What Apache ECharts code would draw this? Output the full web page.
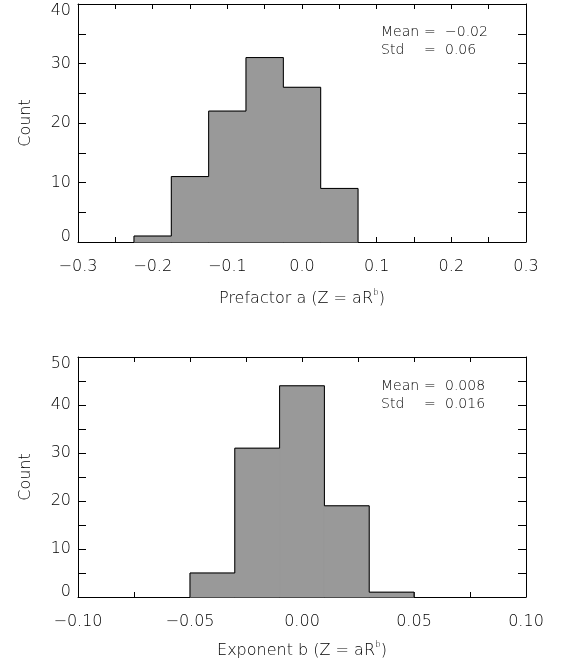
<!DOCTYPE html>
<html>
<head>
<meta charset="utf-8">
<script src="https://cdn.jsdelivr.net/npm/echarts@6/dist/echarts.min.js"></script>
<style>html,body{margin:0;padding:0;background:#fff;}#c{width:570px;height:662px;}</style>
</head>
<body>
<div id="c"></div>
<script>
// ---- data ----
const binEdgesA = [-0.225, -0.175, -0.125, -0.075, -0.025, 0.025, 0.075];
const countsA   = [1, 11, 22, 31, 26, 9];
const binEdgesB = [-0.05, -0.03, -0.01, 0.01, 0.03, 0.05];
const countsB   = [5, 31, 44, 19, 1];
const statsA = { label: ['Mean', 'Std'], value: ['\u22120.02', '0.06'] };
const statsB = { label: ['Mean', 'Std'], value: ['0.008', '0.016'] };
const xTitleA = 'Prefactor a (Z = aR{s|b})';
const xTitleB = 'Exponent b (Z = aR{s|b})';
const yTitle = 'Count';

const FONT = 'DejaVu Sans';
const FW = 200;
const TXT = '#000';

function barItems(edges, counts) {
  return counts.map((c, i) => [edges[i], edges[i + 1], c]);
}
function stepLine(edges, counts) {
  const pts = [[edges[0], 0]];
  counts.forEach((c, i) => { pts.push([edges[i], c]); pts.push([edges[i + 1], c]); });
  pts.push([edges[edges.length - 1], 0]);
  return pts;
}
function fmt(dec) {
  return v => (v < 0 ? '\u2212' : '') + Math.abs(v).toFixed(dec);
}

function xAxes(grid, min, max, interval, dec, name, gap) {
  const common = {
    gridIndex: grid, type: 'value', min: min, max: max, interval: interval,
    axisLine: { show: true, onZero: false, lineStyle: { color: '#000', width: 1 } },
    axisTick: { show: true, inside: true, length: 5, lineStyle: { color: '#000' } },
    minorTick: { show: true, splitNumber: 2, length: 5, lineStyle: { color: '#000' } },
    splitLine: { show: false }, minorSplitLine: { show: false }
  };
  return [
    Object.assign({}, common, {
      position: 'bottom',
      axisLabel: { show: true, formatter: fmt(dec), margin: 17, fontFamily: FONT, fontSize: 16, color: TXT, fontWeight: FW,
        showMinLabel: true, showMaxLabel: true },
      name: name, nameLocation: 'middle', nameGap: gap,
      nameTextStyle: { fontFamily: FONT, fontSize: 16, color: TXT, fontWeight: FW,
        rich: { s: { fontFamily: FONT, fontSize: 9, color: TXT, fontWeight: FW, verticalAlign: 'bottom', padding: [0, 0, 13, 0] } } }
    }),
    Object.assign({}, common, { position: 'top', axisLabel: { show: false } })
  ];
}
function yAxes(grid, max) {
  const common = {
    gridIndex: grid, type: 'value', min: 0, max: max, interval: 10,
    axisLine: { show: true, onZero: false, lineStyle: { color: '#000', width: 1 } },
    axisTick: { show: true, inside: true, length: 8, lineStyle: { color: '#000' } },
    minorTick: { show: true, splitNumber: 2, length: 8, lineStyle: { color: '#000' } },
    splitLine: { show: false }, minorSplitLine: { show: false }
  };
  const lab = { fontFamily: FONT, fontSize: 16, color: TXT, fontWeight: FW };
  return [
    Object.assign({}, common, {
      position: 'left',
      axisLabel: Object.assign({ show: true, margin: 7,
        formatter: v => v === 0 ? '{lo|' + v + '}' : (v === max ? '{hi|' + v + '}' : '{n|' + v + '}'),
        rich: {
          n: Object.assign({}, lab),
          lo: Object.assign({ padding: [0, 0, 10, 0] }, lab),
          hi: Object.assign({ padding: [14, 0, 0, 0] }, lab)
        } }, lab),
      name: yTitle, nameLocation: 'middle', nameGap: 44, nameRotate: 90,
      nameTextStyle: Object.assign({}, lab)
    }),
    Object.assign({}, common, { position: 'right', axisLabel: { show: false } })
  ];
}

function histSeries(xi, yi, edges, counts) {
  return [
    {
      type: 'custom', xAxisIndex: xi, yAxisIndex: yi, data: barItems(edges, counts),
      renderItem: (params, api) => {
        const p0 = api.coord([api.value(0), api.value(2)]);
        const p1 = api.coord([api.value(1), 0]);
        return { type: 'rect', shape: { x: p0[0], y: p0[1], width: p1[0] - p0[0], height: p1[1] - p0[1] },
                 style: { fill: '#999999', stroke: '#999999', lineWidth: 1 } };
      },
      silent: true, z: 2
    },
    {
      type: 'line', xAxisIndex: xi, yAxisIndex: yi, data: stepLine(edges, counts),
      showSymbol: false, symbol: 'none', lineStyle: { color: '#000', width: 1 }, silent: true, z: 3
    }
  ];
}

function statsText(top, stats) {
  const out = [];
  const st = t => ({ text: t, fontFamily: FONT, fontSize: 14, fill: TXT, fontWeight: FW });
  stats.label.forEach((l, i) => {
    const y = top + i * 18;
    out.push({ type: 'text', left: 381, top: y, style: st(l) });
    out.push({ type: 'text', left: 424, top: y, style: st('=') });
    out.push({ type: 'text', left: 445, top: y, style: st(stats.value[i]) });
  });
  return out;
}

const chart = echarts.init(document.getElementById('c'), null, { renderer: 'canvas' });
chart.setOption({
  animation: false,
  grid: [
    { left: 78, top: 4, width: 448, height: 238 },
    { left: 78, top: 357, width: 448, height: 240 }
  ],
  xAxis: [].concat(xAxes(0, -0.3, 0.3, 0.1, 1, xTitleA, 46), xAxes(1, -0.1, 0.1, 0.05, 2, xTitleB, 43)),
  yAxis: [].concat(yAxes(0, 40), yAxes(1, 50)),
  series: [].concat(histSeries(0, 0, binEdgesA, countsA), histSeries(2, 2, binEdgesB, countsB)),
  graphic: [].concat(statsText(25, statsA), statsText(379, statsB))
});
</script>
</body>
</html>
